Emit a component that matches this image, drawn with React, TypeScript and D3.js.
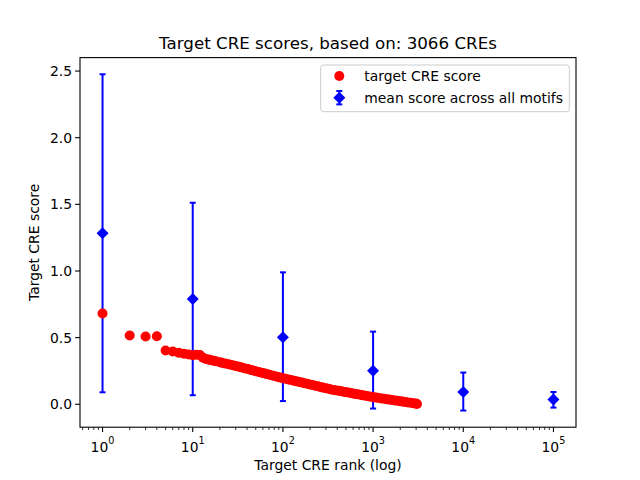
import * as d3 from "d3";

// target CRE scores (rank -> score)
const creRanks = [
  1, 2, 3, 4, 5, 6, 7, 8, 9, 10, 11, 12, 13, 14, 15, 16, 17, 18, 20, 21, 23, 25, 27, 29, 31, 33, 35,
  38, 41, 44, 47, 50, 54, 58, 62, 66, 71, 76, 82, 88, 94, 100, 107, 115, 123, 132, 141, 151, 162,
  173, 185, 198, 212, 227, 243, 260, 278, 298, 319, 341, 365, 391, 418, 447, 479, 512, 548, 587,
  628, 672, 719, 770, 824, 881, 943, 1009, 1080, 1156, 1237, 1323, 1416, 1515, 1621, 1735, 1856,
  1986, 2125, 2274, 2433, 2603, 2786, 2981, 3066,
];
const creScores = [
  0.681, 0.516, 0.508, 0.51, 0.403, 0.396, 0.387, 0.38, 0.373, 0.368, 0.372, 0.37, 0.35, 0.34,
  0.335, 0.331, 0.327, 0.323, 0.315, 0.312, 0.305, 0.3, 0.294, 0.289, 0.285, 0.28, 0.276, 0.269,
  0.264, 0.258, 0.253, 0.248, 0.242, 0.237, 0.232, 0.227, 0.221, 0.216, 0.21, 0.205, 0.2, 0.196,
  0.191, 0.186, 0.182, 0.177, 0.172, 0.168, 0.163, 0.158, 0.154, 0.149, 0.144, 0.139, 0.135, 0.13,
  0.125, 0.121, 0.116, 0.111, 0.108, 0.104, 0.101, 0.097, 0.093, 0.09, 0.086, 0.082, 0.078, 0.075,
  0.071, 0.067, 0.064, 0.06, 0.056, 0.053, 0.05, 0.047, 0.044, 0.041, 0.038, 0.035, 0.032, 0.029,
  0.026, 0.023, 0.02, 0.017, 0.014, 0.011, 0.008, 0.005, 0.002,
];

// mean score across all motifs with error bars
const meanRanks = [1, 10, 100, 1000, 10000, 100000];
const meanScores = [1.283, 0.79, 0.503, 0.252, 0.092, 0.035];
const errTop = [2.476, 1.512, 0.99, 0.545, 0.238, 0.092];
const errBottom = [0.09, 0.068, 0.024, -0.032, -0.047, -0.025];

const xTicks = [1, 10, 100, 1000, 10000, 100000];
const yTicks = [0, 0.5, 1.0, 1.5, 2.0, 2.5];

const font = "DejaVu Sans, sans-serif";

const dimensions = {
  width: 640,
  height: 480,
  left: 80,
  right: 576,
  top: 57.6,
  bottom: 427.2,
};

const App = () => {
  const xScale = d3
    .scaleLog()
    .domain([Math.pow(10, -0.25), Math.pow(10, 5.25)])
    .range([dimensions.left, dimensions.right]);
  const yScale = d3
    .scaleLinear()
    .domain([-0.172, 2.601])
    .range([dimensions.bottom, dimensions.top]);

  // minor ticks for the log axis
  const minorTicks: number[] = [];
  for (let e = -1; e <= 5; e++) {
    for (let m = 2; m <= 9; m++) {
      const v = m * Math.pow(10, e);
      const px = xScale(v);
      if (px >= dimensions.left && px <= dimensions.right) minorTicks.push(v);
    }
  }

  const diamond = (cx: number, cy: number, r: number) =>
    `M${cx},${cy - r}L${cx + r},${cy}L${cx},${cy + r}L${cx - r},${cy}Z`;

  const blue = "#0000ff";
  const red = "#ff0000";

  return (
    <svg
      width={dimensions.width}
      height={dimensions.height}
      style={{ position: "absolute", left: 0, top: 0, background: "white" }}
      fontFamily={font}
    >
      <rect width={dimensions.width} height={dimensions.height} fill="white" />

      {/* error bars */}
      {meanRanks.map((r, i) => (
        <g key={"eb" + i} stroke={blue} strokeWidth={2}>
          <line x1={xScale(r)} x2={xScale(r)} y1={yScale(errTop[i])} y2={yScale(errBottom[i])} />
          <line x1={xScale(r) - 3} x2={xScale(r) + 3} y1={yScale(errTop[i])} y2={yScale(errTop[i])} />
          <line
            x1={xScale(r) - 3}
            x2={xScale(r) + 3}
            y1={yScale(errBottom[i])}
            y2={yScale(errBottom[i])}
          />
        </g>
      ))}

      {/* target CRE score dots */}
      {creRanks.map((r, i) => (
        <circle key={"c" + i} cx={xScale(r)} cy={yScale(creScores[i])} r={5} fill={red} />
      ))}

      {/* mean diamonds */}
      {meanRanks.map((r, i) => (
        <path key={"d" + i} d={diamond(xScale(r), yScale(meanScores[i]), 6)} fill={blue} />
      ))}

      {/* frame */}
      <rect
        x={dimensions.left}
        y={dimensions.top}
        width={dimensions.right - dimensions.left}
        height={dimensions.bottom - dimensions.top}
        fill="none"
        stroke="black"
        strokeWidth={1.1}
      />

      {/* x axis */}
      {xTicks.map((t, i) => (
        <g key={"xt" + i}>
          <line
            x1={xScale(t)}
            x2={xScale(t)}
            y1={dimensions.bottom}
            y2={dimensions.bottom + 4.9}
            stroke="black"
            strokeWidth={1.1}
          />
          <text x={xScale(t)} y={451.7} textAnchor="middle" fontSize={13.9}>
            <tspan>10</tspan>
            <tspan dy={-7.5} fontSize={9.7}>
              {Math.round(Math.log10(t))}
            </tspan>
          </text>
        </g>
      ))}
      {minorTicks.map((t, i) => (
        <line
          key={"mt" + i}
          x1={xScale(t)}
          x2={xScale(t)}
          y1={dimensions.bottom}
          y2={dimensions.bottom + 2.8}
          stroke="black"
          strokeWidth={0.8}
        />
      ))}
      <text x={328} y={470} textAnchor="middle" fontSize={13.9}>
        Target CRE rank (log)
      </text>

      {/* y axis */}
      {yTicks.map((t, i) => (
        <g key={"yt" + i}>
          <line
            x1={dimensions.left - 4.9}
            x2={dimensions.left}
            y1={yScale(t)}
            y2={yScale(t)}
            stroke="black"
            strokeWidth={1.1}
          />
          <text x={72} y={yScale(t)} textAnchor="end" dominantBaseline="central" fontSize={13.9}>
            {t.toFixed(1)}
          </text>
        </g>
      ))}
      <text transform="translate(39,242.4) rotate(-90)" textAnchor="middle" fontSize={13.9}>
        Target CRE score
      </text>

      {/* title */}
      <text x={328} y={48.5} textAnchor="middle" fontSize={16.7}>
        Target CRE scores, based on: 3066 CREs
      </text>

      {/* legend */}
      <rect
        x={320.7}
        y={65}
        width={248.6}
        height={46.7}
        rx={2.8}
        fill="white"
        fillOpacity={0.8}
        stroke="#cccccc"
        strokeWidth={1}
      />
      <circle cx={339.3} cy={76} r={5} fill={red} />
      <text x={364.3} y={76} dominantBaseline="central" fontSize={13.9}>
        target CRE score
      </text>
      <g stroke={blue} strokeWidth={2}>
        <line x1={339.3} x2={339.3} y1={91} y2={104.4} />
        <line x1={336.3} x2={342.3} y1={91} y2={91} />
        <line x1={336.3} x2={342.3} y1={104.4} y2={104.4} />
      </g>
      <path d={diamond(339.3, 97.7, 6)} fill={blue} />
      <text x={364.3} y={97.7} dominantBaseline="central" fontSize={13.9}>
        mean score across all motifs
      </text>
    </svg>
  );
};

export default App;
